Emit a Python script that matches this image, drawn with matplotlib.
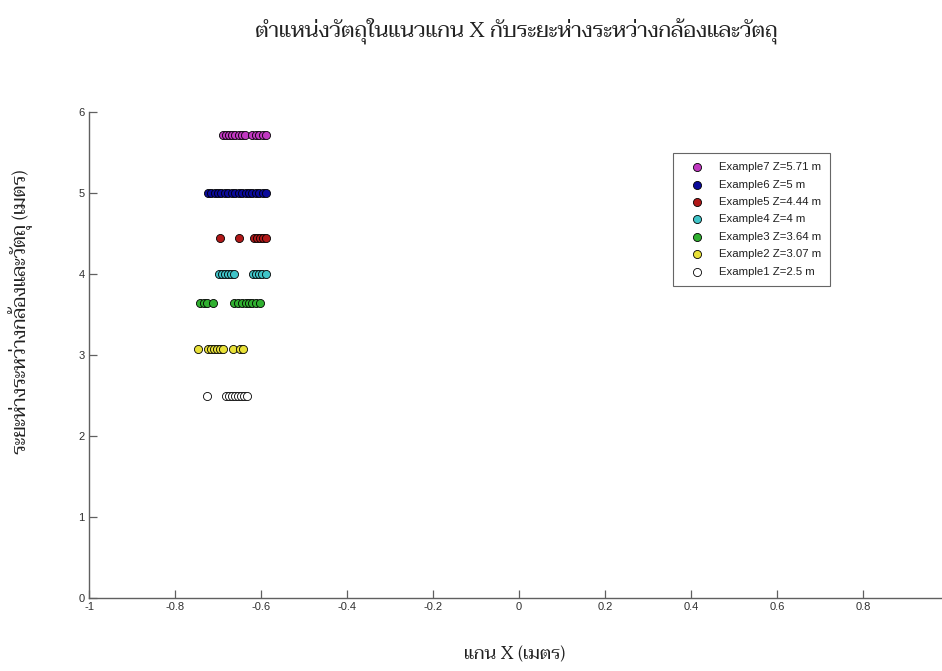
import matplotlib
matplotlib.use("Agg")
import matplotlib.pyplot as plt
from matplotlib import font_manager

# ---------------- data ----------------
labels = ["Example7 Z=5.71 m", "Example6 Z=5 m", "Example5 Z=4.44 m",
          "Example4 Z=4 m", "Example3 Z=3.64 m", "Example2 Z=3.07 m",
          "Example1 Z=2.5 m"]
z_values = [5.71, 5.0, 4.44, 4.0, 3.64, 3.07, 2.5]
x_ex7 = [-0.689, -0.682, -0.675, -0.668, -0.660, -0.652, -0.645, -0.637,
         -0.620, -0.612, -0.604, -0.596, -0.588]
x_ex6 = [-0.724, -0.716, -0.708, -0.701, -0.692, -0.684, -0.677, -0.668,
         -0.661, -0.652, -0.644, -0.636, -0.629, -0.620, -0.612, -0.604,
         -0.596, -0.588]
x_ex5 = [-0.696, -0.651, -0.616, -0.609, -0.602, -0.595, -0.589]
x_ex4 = [-0.698, -0.690, -0.683, -0.676, -0.669, -0.663,
         -0.619, -0.612, -0.605, -0.597, -0.589]
x_ex3 = [-0.741, -0.733, -0.725, -0.712,
         -0.662, -0.654, -0.645, -0.636, -0.628, -0.620, -0.611, -0.603]
x_ex2 = [-0.747, -0.723, -0.716, -0.709, -0.702, -0.695, -0.689,
         -0.664, -0.650, -0.643]
x_ex1 = [-0.726, -0.681, -0.674, -0.667, -0.660, -0.653, -0.646, -0.639, -0.633]
x_series = [x_ex7, x_ex6, x_ex5, x_ex4, x_ex3, x_ex2, x_ex1]

x_ticks = [-1, -0.8, -0.6, -0.4, -0.2, 0, 0.2, 0.4, 0.6, 0.8]
x_ticklabels = ["-1", "-0.8", "-0.6", "-0.4", "-0.2", "0", "0.2", "0.4", "0.6", "0.8"]
y_ticks = [0, 1, 2, 3, 4, 5, 6]
y_ticklabels = ["0", "1", "2", "3", "4", "5", "6"]

title_text = "ตำแหน่งวัตถุในแนวแกน X กับระยะห่างระหว่างกล้องและวัตถุ"
xlabel_text = "แกน X (เมตร)"
ylabel_text = "ระยะห่างระหว่างกล้องและวัตถุ (เมตร)"

colors = ["#c038c0", "#0a0a9a", "#b01818", "#40c4c8", "#30b030", "#e8e038", "#ffffff"]

# ---------------- fonts ----------------
installed = {f.name for f in font_manager.fontManager.ttflist}
thai_font = None
for cand in ["Taviraj", "Trirong", "Noto Serif Thai", "Sarabun", "Noto Sans Thai", "Athiti"]:
    if cand in installed:
        thai_font = cand
        break
thai_family = [thai_font, "DejaVu Serif"] if thai_font else ["DejaVu Serif"]
sans = "Liberation Sans" if "Liberation Sans" in installed else "DejaVu Sans"

# ---------------- figure ----------------
W, H = 942, 671
fig = plt.figure(figsize=(W / 100, H / 100), dpi=100)
ax_left, ax_bottom = 89, 598   # pixel coords of axes origin
ax_top = 112
ax = fig.add_axes([ax_left / W, (H - ax_bottom) / H, (W - ax_left) / W, (ax_bottom - ax_top) / H])

for xs, z, c, lab in zip(x_series, z_values, colors, labels):
    ax.scatter(xs, [z] * len(xs), s=34, facecolor=c, edgecolor="black",
               linewidths=0.6, label=lab, zorder=3)

ax.set_xlim(-1, -1 + (W - ax_left) / 430.0)
ax.set_ylim(0, 6)
ax.set_xticks(x_ticks)
ax.set_xticklabels(x_ticklabels)
ax.set_yticks(y_ticks)
ax.set_yticklabels(y_ticklabels)

axis_color = "#606060"
for side in ["top", "right"]:
    ax.spines[side].set_visible(False)
for side in ["left", "bottom"]:
    ax.spines[side].set_color(axis_color)
    ax.spines[side].set_linewidth(1.0)
ax.tick_params(direction="in", length=6, width=0.9, color=axis_color,
               labelsize=8, labelcolor="#303030", pad=3)
for t in ax.get_xticklabels() + ax.get_yticklabels():
    t.set_fontfamily(sans)

leg_fs = 8.2
leg = ax.legend(loc="upper left",
                bbox_to_anchor=((673 - ax_left) / (W - ax_left), (ax_bottom - 153) / (ax_bottom - ax_top)),
                borderaxespad=0, labelspacing=0.65, handletextpad=0.6,
                handlelength=2.6, borderpad=0.8, frameon=True, fancybox=False,
                scatterpoints=1, prop={"family": sans, "size": leg_fs})
leg.get_frame().set_edgecolor("#404040")
leg.get_frame().set_linewidth(0.8)
for t in leg.get_texts():
    t.set_color("#202020")

fig.text(516 / W, 1 - 31 / H, title_text, ha="center", va="center",
         fontsize=15.5, family=thai_family, color="#222222")
fig.text(515 / W, 1 - 655 / H, xlabel_text, ha="center", va="center",
         fontsize=13, family=thai_family, color="#222222")
fig.text(21 / W, 1 - 312 / H, ylabel_text, ha="center", va="center", rotation=90,
         fontsize=13.7, family=thai_family, color="#222222")

fig.savefig("out.png", dpi=100)
